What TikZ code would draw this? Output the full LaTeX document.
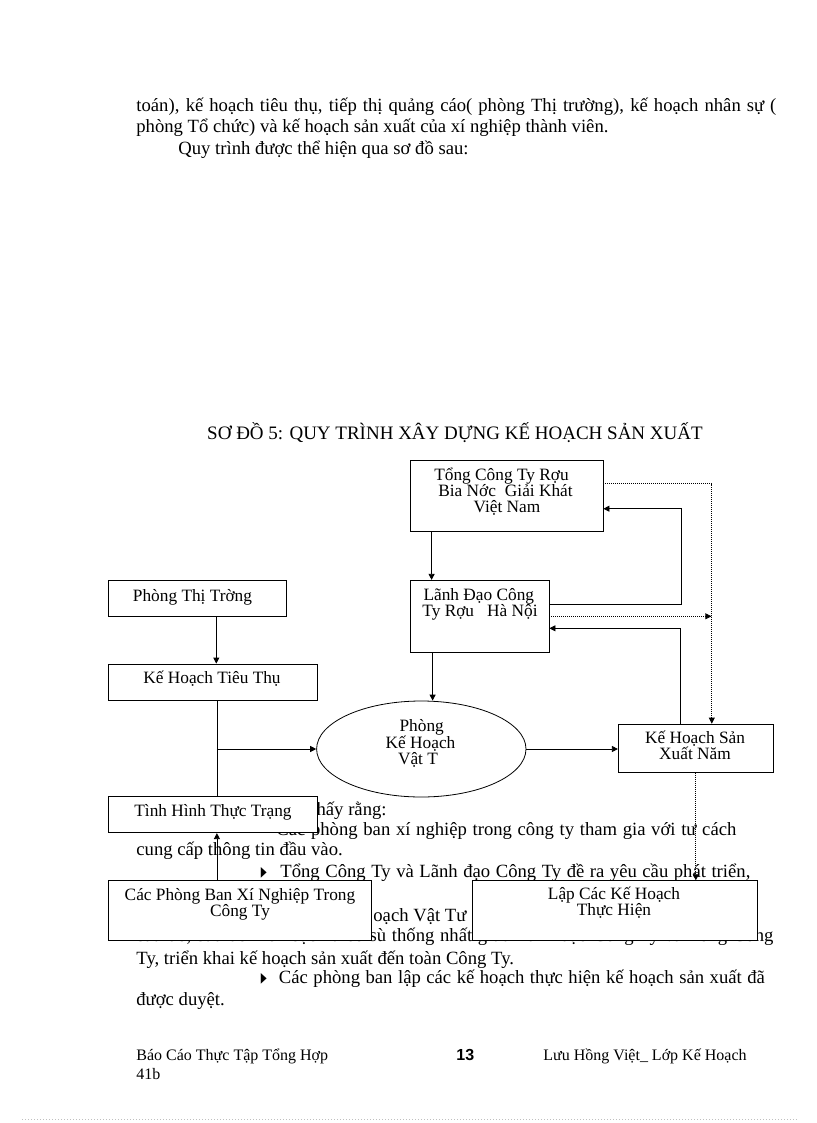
\documentclass[tikz,border=0pt]{standalone}
\usepackage{fontspec}
\setmainfont{Liberation Serif}
\newfontfamily\symfont{DejaVu Sans}
\newfontfamily\numfont{Liberation Sans}
\usetikzlibrary{arrows.meta,calc,shapes.geometric}
\tikzset{
  body/.style={anchor=base west, inner sep=0pt, font=\fontsize{18.67}{21.5}\selectfont},
  btxt/.style={anchor=base, inner sep=0pt, font=\fontsize{17.3}{16}\selectfont},
  box/.style={draw, fill=white, inner sep=0pt},
  arr/.style={-{Triangle[length=6pt,width=6pt]}},
  dotarr/.style={dash pattern=on 1pt off 1pt, -{Triangle[length=6pt,width=6pt]}},
  foot/.style={anchor=base west, inner sep=0pt, font=\fontsize{16}{18}\selectfont},
  bul/.style={anchor=base west, inner sep=0pt, font=\symfont\fontsize{14}{16}\selectfont},
}
\newcommand{\bultri}{\scalebox{0.55}[1]{▶}}
\begin{document}
\begin{tikzpicture}[x=1pt,y=-1pt,line width=0.8pt]
\useasboundingbox (0,0) rectangle (816,1123);
\fill[white] (0,0) rectangle (816,1123);

% ---- body text above ----
\node[body] (t1) at (136,111.5) {\makebox[640pt][s]{toán), kế hoạch tiêu thụ, tiếp thị quảng cáo( phòng Thị trường), kế hoạch nhân sự (}};
\node[body] (t2) at (136,133) {phòng Tổ chức) và kế hoạch sản xuất của xí nghiệp thành viên.};
\node[body] (t3) at (178,154.5) {Quy trình được thể hiện qua sơ đồ sau:};
\node[anchor=base, inner sep=0pt, font=\fontsize{19}{20}\selectfont] (title) at (455,439) {SƠ ĐỒ 5: QUY TRÌNH XÂY DỰNG KẾ HOẠCH SẢN XUẤT};

% ---- body text below (partly hidden by boxes) ----
\node[body, anchor=base east] (b1) at (387,815) {thấy rằng:};
\node[body] (b2) at (276,835.7) {\makebox[460pt][s]{Các phòng ban xí nghiệp trong công ty tham gia với tư cách}};
\node[body] (b3) at (136,855) {cung cấp thông tin đầu vào.};
\node[bul] (bu1) at (260.5,876.3) {\bultri};
\node[body] (b4) at (280,877.3) {\makebox[470pt][s]{Tổng Công Ty và Lãnh đạo Công Ty đề ra yêu cầu phát triển,}};
\node[body] (b5) at (373,921.7) {oạch Vật Tư};
\node[body] (b6) at (137,941.7) {\makebox[636pt][s]{sau đó, sửa đổi kế hoạch theo sù thống nhất giữa Lãnh đạo Công Ty và Tổng Công}};
\node[body] (b7) at (136,964) {Ty, triển khai kế hoạch sản xuất đến toàn Công Ty.};
\node[bul] (bu2) at (260.5,982.3) {\bultri};
\node[body] (b8) at (278.5,983.3) {\makebox[486pt][s]{Các phòng ban lập các kế hoạch thực hiện kế hoạch sản xuất đã}};
\node[body] (b9) at (136,1005) {được duyệt.};

% ---- footer ----
\node[foot] (f1) at (136,1060) {Báo Cáo Thực Tập Tổng Hợp};
\node[foot] (f2) at (136,1079) {41b};
\node[anchor=base west, inner sep=0pt, font=\numfont\bfseries\fontsize{16}{18}\selectfont] (f3) at (456,1060) {13};
\node[foot] (f4) at (543,1060) {Lưu Hồng Việt\_ Lớp Kế Hoạch};
\draw[black!25, line width=0.6pt, dash pattern=on 1pt off 2pt] (22,1119) -- (798,1119);

% ---- boxes ----
\node[box, minimum width=193pt, minimum height=71pt] (tong) at (506.5,495.5) {};
\node[box, minimum width=138.3pt, minimum height=72pt] (lanh) at (479.85,616.3) {};
\node[box, minimum width=178pt, minimum height=36pt] (ptt) at (197,598) {};
\node[box, minimum width=209pt, minimum height=36pt] (khtt) at (212.5,682) {};
\node[box, minimum width=209pt, minimum height=36pt] (tinh) at (212.5,814.7) {};
\node[box, minimum width=263pt, minimum height=59.3pt] (cpb) at (239.5,910.35) {};
\node[box, minimum width=285pt, minimum height=59.3pt] (lap) at (614.5,910.35) {};
\node[box, minimum width=155pt, minimum height=48.3pt] (khsx) at (695.8,748.2) {};
\node[box, ellipse, minimum width=209.4pt, minimum height=96pt] (phkh) at (421.3,749) {};

% ---- connectors ----
\coordinate (lanhin) at ($(tong.south west)+(22,0)$);
\draw[arr] (lanhin) -- (lanhin |- lanh.north);
\draw[arr] ($(lanh.east)+(0,-12.3)$) -- ++(132,0) |- ($(tong.east)+(0,13.2)$);
\draw[dotarr] ($(tong.east)+(0,-11.8)$) -| ($(khsx.north)+(16,0)$);
\draw[dotarr] (lanh.east) -- ++(162,0);
\draw[arr] ($(khsx.north)+(-15,0)$) |- ($(lanh.east)+(0,12)$);
\coordinate (lanhout) at ($(lanh.south west)+(22.3,0)$);
\draw[arr] (lanhout) -- (lanhout |- phkh.north);
\draw[arr] (phkh.east) -- (phkh.east -| khsx.west);
\coordinate (pttout) at ($(ptt.south west)+(108.7,0)$);
\draw[arr] (pttout) -- (pttout |- khtt.north);
\coordinate (khttout) at ($(khtt.south west)+(109.3,0)$);
\draw (khttout) -- (khttout |- tinh.north);
\draw[arr] (khttout |- phkh.west) -- (phkh.west);
\coordinate (cpbout) at ($(cpb.north west)+(109.3,0)$);
\draw[arr] (cpbout) -- (cpbout |- tinh.south);
\draw[dotarr] (khsx.south) -- (khsx.south |- lap.north);

% ---- box texts ----
\node[btxt] (tong1) at (501.5,480.7) {Tổng Công Ty Rợu};
\node[btxt] (tong2) at (505.5,496.7) {Bia Nớc\hspace{9pt}Giải Khát};
\node[btxt] (tong3) at (507,512.5) {Việt Nam};
\node[btxt] (lanh1) at (478.8,600.7) {Lãnh Đạo Công};
\node[btxt] (lanh2) at (480,616.5) {Ty Rợu\hspace{13pt}Hà Nội};
\node[btxt] (ptt1) at (192.5,601.7) {Phòng Thị Trờng};
\node[btxt] (khtt1) at (212,683.3) {Kế Hoạch Tiêu Thụ};
\node[btxt] (tinh1) at (213,816.7) {Tình Hình Thực Trạng};
\node[btxt] (phkh1) at (421.7,731.5) {Phòng};
\node[btxt] (phkh2) at (420.5,748) {Kế Hoạch};
\node[btxt] (phkh3) at (418,764) {Vật T};
\node[btxt] (khsx1) at (695,743) {Kế Hoạch Sản};
\node[btxt] (khsx2) at (695,759) {Xuất Năm};
\node[btxt] (cpb1) at (240,900) {Các Phòng Ban Xí Nghiệp Trong};
\node[btxt] (cpb2) at (240,916) {Công Ty};
\node[btxt] (lap1) at (614,899.3) {Lập Các Kế Hoạch};
\node[btxt] (lap2) at (614,915) {Thực Hiện};
\end{tikzpicture}
\end{document}
